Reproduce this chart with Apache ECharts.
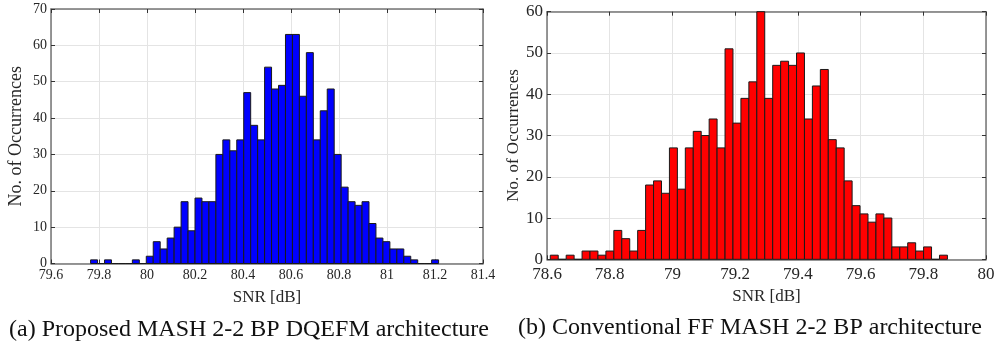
<!DOCTYPE html>
<html>
<head>
<meta charset="utf-8">
<script src="https://cdn.jsdelivr.net/npm/echarts@6/dist/echarts.min.js"></script>
<style>
  html, body { margin: 0; padding: 0; background: #ffffff; }
  #chart { width: 1006px; height: 349px; }
</style>
</head>
<body>
<div id="chart"></div>
<script>
// Histogram of SNR over 1000 runs, 50 bins each.
// (a) Proposed MASH 2-2 BP DQEFM architecture
const dqefmBinStart = 79.765;
const dqefmBinWidth = 0.029;
const dqefmCounts = [
  1, 0, 1, 0, 0, 0, 1, 0, 2, 6,
  4, 7, 10, 17, 9, 18, 17, 17, 30, 34,
  31, 34, 47, 38, 34, 54, 48, 49, 63, 63,
  46, 58, 34, 42, 48, 30, 21, 17, 16, 17,
  11, 7, 6, 4, 4, 2, 1, 0, 0, 1
];

// (b) Conventional FF MASH 2-2 BP architecture
const ffBinStart = 78.6105;
const ffBinWidth = 0.02533;
const ffCounts = [
  1, 0, 1, 0, 2, 2, 1, 2, 7, 5,
  2, 7, 18, 19, 16, 27, 17, 27, 31, 30,
  34, 27, 51, 33, 39, 43, 60, 39, 47, 48,
  47, 50, 34, 42, 46, 29, 27, 19, 13, 11,
  9, 11, 10, 3, 3, 4, 2, 3, 0, 1
];

// x-axis ranges and tick labels
const dqefmXTicks = ['79.6', '79.8', '80', '80.2', '80.4', '80.6', '80.8', '81', '81.2', '81.4'];
const ffXTicks = ['78.6', '78.8', '79', '79.2', '79.4', '79.6', '79.8', '80'];
const dqefmYMax = 70;
const ffYMax = 60;

const xTitle = 'SNR [dB]';
const yTitle = 'No. of Occurrences';
const captions = [
  '(a) Proposed MASH 2-2 BP DQEFM architecture',
  '(b) Conventional FF MASH 2-2 BP architecture'
];

const SERIF = '"Liberation Serif", "Times New Roman", serif';
const BOX = '#757575';
const GRID = '#e4e4e4';
const TEXT = '#262626';

function bins(start, width, counts) {
  return counts.map((c, i) => [start + i * width, start + (i + 1) * width, c]);
}

const panels = [
  {
    grid: { left: 51, top: 9, width: 432, height: 254.5 },
    xTicks: dqefmXTicks, yMax: dqefmYMax,
    data: bins(dqefmBinStart, dqefmBinWidth, dqefmCounts),
    fill: '#0000ff',
    tickFont: 14, xNameFont: 17, yNameFont: 18,
    xLabelMargin: 5, xNameGap: 26, yNameGap: 26
  },
  {
    grid: { left: 547, top: 11.7, width: 439, height: 247.6 },
    xTicks: ffXTicks, yMax: ffYMax,
    data: bins(ffBinStart, ffBinWidth, ffCounts),
    fill: '#ff0000',
    tickFont: 17, xNameFont: 17, yNameFont: 17,
    xLabelMargin: 7, xNameGap: 29, yNameGap: 23
  }
];

const grids = [], xAxes = [], yAxes = [], series = [];

panels.forEach((p, g) => {
  grids.push(p.grid);
  const xMin = parseFloat(p.xTicks[0]);
  const xMax = parseFloat(p.xTicks[p.xTicks.length - 1]);
  const boxLine = { show: true, onZero: false, lineStyle: { color: BOX, width: 1.5 } };
  const tick = { show: true, inside: true, length: 4, lineStyle: { color: '#333', width: 1 } };

  // bottom axis: labels, grid lines, box edge
  xAxes.push({
    type: 'value', gridIndex: g, position: 'bottom',
    min: xMin, max: xMax, interval: 0.2,
    name: xTitle, nameLocation: 'middle', nameGap: p.xNameGap,
    nameTextStyle: { fontFamily: SERIF, fontSize: p.xNameFont, color: TEXT },
    axisLine: boxLine, axisTick: tick,
    axisLabel: { fontFamily: SERIF, fontSize: p.tickFont, color: TEXT, margin: p.xLabelMargin,
                 formatter: v => String(Math.round(v * 10) / 10) },
    splitLine: { show: true, lineStyle: { color: GRID, width: 1 } }
  });
  // top box edge with inward ticks
  xAxes.push({
    type: 'value', gridIndex: g, position: 'top',
    min: xMin, max: xMax, interval: 0.2,
    axisLine: boxLine, axisTick: tick,
    axisLabel: { show: false }, splitLine: { show: false }
  });
  // left axis: labels, grid lines
  yAxes.push({
    type: 'value', gridIndex: g, position: 'left',
    min: 0, max: p.yMax, interval: 10,
    name: yTitle, nameLocation: 'middle', nameGap: p.yNameGap,
    nameTextStyle: { fontFamily: SERIF, fontSize: p.yNameFont, color: TEXT },
    axisLine: boxLine, axisTick: tick,
    axisLabel: { fontFamily: SERIF, fontSize: p.tickFont, color: TEXT, margin: 4 },
    splitLine: { show: true, lineStyle: { color: GRID, width: 1 } }
  });
  // right box edge with inward ticks
  yAxes.push({
    type: 'value', gridIndex: g, position: 'right',
    min: 0, max: p.yMax, interval: 10,
    axisLine: boxLine, axisTick: tick,
    axisLabel: { show: false }, splitLine: { show: false }
  });

  series.push({
    type: 'custom',
    coordinateSystem: 'cartesian2d',
    xAxisIndex: 2 * g, yAxisIndex: 2 * g,
    data: p.data,
    encode: { x: [0, 1], y: 2 },
    renderItem: (params, api) => {
      const lo = api.coord([api.value(0), 0]);
      const hi = api.coord([api.value(1), api.value(2)]);
      return {
        type: 'rect',
        shape: { x: lo[0], y: hi[1], width: hi[0] - lo[0], height: lo[1] - hi[1] },
        style: { fill: p.fill, stroke: '#1a1a1a', lineWidth: 1 }
      };
    }
  });
});

const chart = echarts.init(document.getElementById('chart'), null, { renderer: 'canvas' });
chart.setOption({
  backgroundColor: '#ffffff',
  animation: false,
  grid: grids,
  xAxis: xAxes,
  yAxis: yAxes,
  series: series,
  graphic: [
    { type: 'text', x: 249, y: 330, style: {
        text: captions[0], fontFamily: SERIF, fontSize: 24, fill: '#111',
        align: 'center', verticalAlign: 'middle' } },
    { type: 'text', x: 750, y: 328, style: {
        text: captions[1], fontFamily: SERIF, fontSize: 24, fill: '#111',
        align: 'center', verticalAlign: 'middle' } }
  ]
});
</script>
</body>
</html>
